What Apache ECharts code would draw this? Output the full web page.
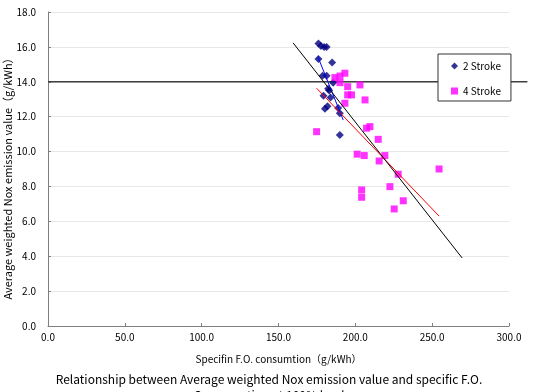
<!DOCTYPE html>
<html>
<head>
<meta charset="utf-8">
<style>
  html, body { margin: 0; padding: 0; background: #fff; }
  #chart { width: 538px; height: 392px; }
</style>
<script src="https://cdn.jsdelivr.net/npm/echarts@6/dist/echarts.min.js"></script>
</head>
<body>
<div id="chart"></div>
<script>
// 2 Stroke engines [SFOC g/kWh, NOx g/kWh]
const stroke2 = [
  [176.0, 16.2], [177.6, 16.05], [179.7, 16.0], [181.3, 16.0],
  [176.0, 15.3], [184.9, 15.1], [178.7, 14.35], [181.3, 14.35],
  [185.6, 13.95], [182.3, 13.6], [183.0, 13.5], [179.3, 13.2],
  [183.9, 13.1], [180.2, 12.45], [181.9, 12.6], [188.8, 12.5],
  [189.9, 12.2], [189.9, 10.95]
]
// 4 Stroke engines
const stroke4 = [
  [186.7, 14.24], [190.0, 14.33], [193.2, 14.49], [190.0, 13.95],
  [195.0, 13.72], [203.0, 13.82], [195.0, 13.25], [197.5, 13.25],
  [206.3, 12.96], [193.2, 12.77], [209.5, 11.43], [207.3, 11.34],
  [214.9, 10.7], [174.8, 11.14], [201.2, 9.85], [205.8, 9.77],
  [219.2, 9.77], [215.5, 9.46], [227.9, 8.7], [222.5, 7.99],
  [204.1, 7.8], [204.1, 7.38], [231.2, 7.18], [225.3, 6.71],
  [254.5, 9.0]
]
// trend lines (end points)
const trend2 = [[175.6, 15.44], [192.1, 11.81]]
const trend4 = [[174.8, 13.63], [254.5, 6.3]]
const trendAll = [[159.5, 16.23], [269.5, 3.9]]
// 14.0 g/kWh limit, runs a bit past the plot on the right
const limitLine = [[0, 14.0], [312, 14.0]]

const xTicks = [0, 50, 100, 150, 200, 250, 300]
const yTicks = [0, 2, 4, 6, 8, 10, 12, 14, 16, 18]

const font = "'Noto Sans CJK JP', sans-serif"
const chart = echarts.init(document.getElementById('chart'))

chart.setOption({
  animation: false,
  textStyle: { fontFamily: font },
  title: {
    text: 'Relationship between Average weighted Nox emission value and specific F.O.\nConsumption at 100% load',
    left: 'center',
    top: 371,
    padding: 0,
    textStyle: { fontSize: 12, fontWeight: 'normal', color: '#000', lineHeight: 16, fontFamily: font }
  },
  legend: {
    orient: 'vertical',
    left: 438,
    top: 54,
    data: [
      { name: '2 Stroke', icon: 'diamond' },
      { name: '4 Stroke', icon: 'rect' }
    ],
    itemWidth: 7,
    itemHeight: 7,
    itemGap: 15,
    padding: [7, 10, 5, 13],
    backgroundColor: '#fff',
    borderColor: '#333',
    borderWidth: 1,
    borderRadius: 0,
    textStyle: { fontSize: 10, color: '#000', fontFamily: font },
    z: 10
  },
  grid: { left: 48, right: 29, top: 12, bottom: 66, outerBoundsMode: 'none' },
  xAxis: {
    type: 'value',
    min: 0,
    max: 300,
    interval: 50,
    name: 'Specifin F.O. consumtion（g/kWh）',
    nameLocation: 'middle',
    nameGap: 28,
    nameMoveOverlap: false,
    nameTextStyle: { fontSize: 10, color: '#000', fontFamily: font },
    axisLine: { lineStyle: { color: '#7f7f7f', width: 1 } },
    axisTick: { show: true, inside: true, length: 3, lineStyle: { color: '#7f7f7f' } },
    axisLabel: {
      fontSize: 10, color: '#000', margin: 6,
      formatter: v => xTicks.includes(v) ? v.toFixed(1) : ''
    },
    splitLine: { show: false }
  },
  yAxis: {
    type: 'value',
    min: 0,
    max: 18,
    interval: 2,
    name: 'Average weighted Nox emission value（g/kWh）',
    nameLocation: 'middle',
    nameGap: 35,
    nameMoveOverlap: false,
    nameTextStyle: { fontSize: 11, color: '#000', fontFamily: font, padding: [0, 14, 0, 0] },
    axisLine: { show: true, lineStyle: { color: '#7f7f7f', width: 1 } },
    axisTick: { show: true, inside: true, length: 3, lineStyle: { color: '#7f7f7f' } },
    axisLabel: {
      fontSize: 10, color: '#000', margin: 12,
      formatter: v => yTicks.includes(v) ? v.toFixed(1) : ''
    },
    splitLine: { show: true, lineStyle: { color: '#e8e8e8', width: 1 } }
  },
  series: [
    {
      name: '2 Stroke',
      type: 'scatter',
      data: stroke2,
      symbol: 'diamond',
      symbolSize: 8,
      itemStyle: { color: '#000080' },
      z: 3
    },
    {
      name: '4 Stroke',
      type: 'scatter',
      data: stroke4,
      symbol: 'rect',
      symbolSize: 7,
      itemStyle: { color: '#ff00ff' },
      z: 3
    },
    {
      name: 'trend 2',
      type: 'line',
      data: trend2,
      showSymbol: false,
      lineStyle: { color: '#0000ff', width: 1 },
      z: 4
    },
    {
      name: 'trend 4',
      type: 'line',
      data: trend4,
      showSymbol: false,
      lineStyle: { color: '#ff0000', width: 1 },
      z: 4
    },
    {
      name: 'trend all',
      type: 'line',
      data: trendAll,
      showSymbol: false,
      lineStyle: { color: '#000', width: 1 },
      z: 4
    }
  ]
})

// limit line placed through the axes' own scale (it overhangs the grid)
const p0 = chart.convertToPixel({ gridIndex: 0 }, limitLine[0])
const p1 = chart.convertToPixel({ gridIndex: 0 }, limitLine[1])
chart.setOption({
  graphic: [{
    type: 'line',
    shape: { x1: p0[0], y1: p0[1], x2: p1[0], y2: p1[1] },
    style: { stroke: '#404040', lineWidth: 1.5 },
    z: 1
  }]
})

window.addEventListener('resize', () => chart.resize())
</script>
</body>
</html>
